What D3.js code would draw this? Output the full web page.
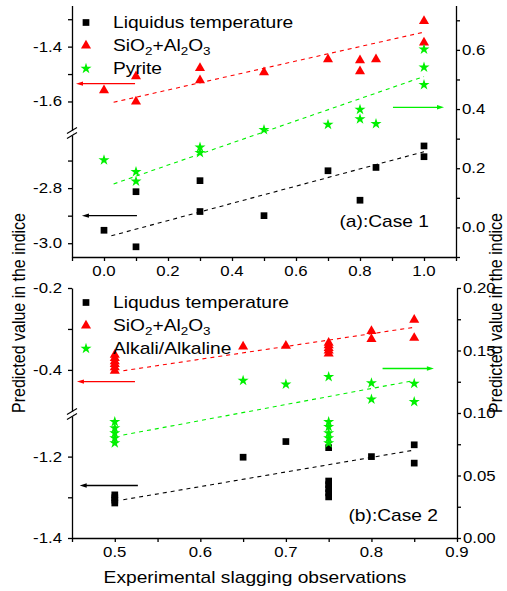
<!DOCTYPE html>
<html>
<head>
<meta charset="utf-8">
<script src="https://cdn.jsdelivr.net/npm/d3@7"></script>
<style>
  body { margin: 0; background: #fff; }
  svg { display: block; font-family: "Liberation Sans", Arial, sans-serif; }
</style>
</head>
<body>
<svg id="chart" width="507" height="591"></svg>
<script>
// ---- data ----
// panel (a): Case 1
const namesA = ["Liquidus temperature", "SiO2+Al2O3", "Pyrite"];
const liqA = [[0, -2.953], [0.1, -2.813], [0.1, -3.013], [0.3, -2.773], [0.3, -2.885], [0.5, -2.90],
    [0.7, -2.737], [0.8, -2.844], [0.85, -2.725], [1.0, -2.647], [1.0, -2.686]];
const sioA = [[0, -1.559], [0.1, -1.508], [0.1, -1.60], [0.3, -1.478], [0.3, -1.523], [0.5, -1.494],
    [0.7, -1.446], [0.8, -1.45], [0.8, -1.49], [0.85, -1.446], [1.0, -1.307], [1.0, -1.385]];
const pyrA = [[0, 0.228], [0.1, 0.188], [0.1, 0.156], [0.3, 0.271], [0.3, 0.252], [0.5, 0.330],
    [0.7, 0.348], [0.8, 0.398], [0.8, 0.366], [0.85, 0.350], [1.0, 0.602], [1.0, 0.541], [1.0, 0.482]];
const fitLiqA = [[0.023, -2.973], [1.0, -2.668]];
const fitSioA = [[0.03, -1.603], [1.0, -1.347]];
const fitPyrA = [[0.03, 0.147], [1.0, 0.51]];
// arrows: [x from, x to, y]
const arrowLiqA = [0.103, -0.069, -2.9];
const arrowSioA = [0.097, -0.0875, -1.535];
const arrowPyrA = [0.903, 1.0625, 0.406];

// panel (b): Case 2
const namesB = ["Liqudus temperature", "SiO2+Al2O3", "Alkali/Alkaline"];
const liqB = [[0.5, -1.294], [0.5, -1.301], [0.5, -1.307], [0.5, -1.314], [0.65, -1.2015], [0.7, -1.163],
    [0.75, -1.178], [0.75, -1.260], [0.75, -1.269], [0.75, -1.279], [0.75, -1.289], [0.75, -1.299],
    [0.8, -1.200], [0.85, -1.171], [0.85, -1.216]];
const sioB = [[0.5, -0.363], [0.5, -0.371], [0.5, -0.379], [0.5, -0.386], [0.5, -0.394], [0.5, -0.402],
    [0.65, -0.343], [0.7, -0.341], [0.75, -0.334], [0.75, -0.340], [0.75, -0.347], [0.75, -0.353],
    [0.75, -0.360], [0.8, -0.305], [0.8, -0.325], [0.85, -0.278], [0.85, -0.322]];
const alkB = [[0.5, 0.093], [0.5, 0.088], [0.5, 0.084], [0.5, 0.080], [0.5, 0.076], [0.65, 0.126],
    [0.7, 0.123], [0.75, 0.129], [0.75, 0.093], [0.75, 0.089], [0.75, 0.084], [0.75, 0.080], [0.75, 0.076],
    [0.8, 0.124], [0.8, 0.111], [0.85, 0.1235], [0.85, 0.109]];
const fitLiqB = [[0.51, -1.306], [0.85, -1.184]];
const fitSioB = [[0.51, -0.402], [0.85, -0.296]];
const fitAlkB = [[0.51, 0.0824], [0.85, 0.126]];
const arrowLiqB = [0.527, 0.459, -1.271];
const arrowSioB = [0.5236, 0.4558, -0.4286];
const arrowAlkB = [0.813, 0.873, 0.1356];

// ticks
const xMajA = [0, 0.2, 0.4, 0.6, 0.8, 1.0], xMinA = [-0.1, 0.1, 0.3, 0.5, 0.7, 0.9, 1.1];
const upMajA = [-1.6, -1.4], upMinA = [-1.5, -1.3];
const loMajA = [-3.0, -2.8], loMinA = [-2.9, -2.7];
const rMajA = [0, 0.2, 0.4, 0.6], rMinA = [-0.1, 0.1, 0.3, 0.5, 0.7];
const xMajB = [0.5, 0.6, 0.7, 0.8, 0.9], xMinB = [0.45, 0.55, 0.65, 0.75, 0.85];
const upMajB = [-0.4, -0.2], upMinB = [-0.3];
const loMajB = [-1.4, -1.2], loMinB = [-1.3];
const rMajB = [0, 0.05, 0.1, 0.15, 0.2], rMinB = [0.025, 0.075, 0.125, 0.175];

const colors = ["#000000", "#ff0000", "#00f000"];
const SX = 1.2; // the original text is a bit wider than plain Arial

const svg = d3.select("#chart");

function label(g, x, y, s, size, anchor) {
    let t = g.append("text")
        .attr("transform", `translate(${x},${y}) scale(${SX},1)`)
        .attr("text-anchor", anchor || "start")
        .style("font-size", size + "px");
    if (s === "SiO2+Al2O3") {
        // chemical formula with subscripts
        let segs = [["SiO", 0], ["2", 4], ["+Al", -4], ["2", 4], ["O", -4], ["3", 4]];
        segs.forEach(seg => {
            t.append("tspan").text(seg[0])
                .attr("dy", seg[1])
                .style("font-size", seg[1] > 0 ? (size * 0.7) + "px" : size + "px");
        });
    } else {
        t.text(s);
    }
    return t;
}

const symbols = [
    d3.symbol().type(d3.symbolSquare).size(45),
    d3.symbol().type(d3.symbolTriangle).size(44),
    d3.symbol().type(d3.symbolStar).size(38)
];

function drawPanel(p) {
    let g = svg.append("g");
    let x = d3.scaleLinear().domain(p.xDom).range([p.left, p.right]);
    let yUp = d3.scaleLinear().domain(p.upDom).range([p.brk, p.top]);
    let yLo = d3.scaleLinear().domain(p.loDom).range([p.bottom, p.brk]);
    let yR = d3.scaleLinear().domain(p.rDom).range([p.bottom, p.top]);
    let yScales = [yLo, yUp, yR];

    // axes
    let ax = (sel) => sel.call(s => s.selectAll("line,path").attr("stroke", "#000").attr("stroke-width", 1.3))
        .call(s => s.selectAll("text").remove());
    g.append("g").attr("transform", `translate(0,${p.bottom})`)
        .call(d3.axisBottom(x).tickValues(p.xMaj.concat(p.xMin)).tickSize(4).tickSizeOuter(0)).call(ax);
    g.append("g").attr("transform", `translate(${p.left},0)`)
        .call(d3.axisLeft(yUp).tickValues(p.upMaj.concat(p.upMin)).tickSize(4).tickSizeOuter(0)).call(ax);
    g.append("g").attr("transform", `translate(${p.left},0)`)
        .call(d3.axisLeft(yLo).tickValues(p.loMaj.concat(p.loMin)).tickSize(4).tickSizeOuter(0)).call(ax);
    g.append("g").attr("transform", `translate(${p.right},0)`)
        .call(d3.axisRight(yR).tickValues(p.rMaj.concat(p.rMin)).tickSize(4).tickSizeOuter(0)).call(ax);

    // axis break on the left
    g.append("line").attr("x1", p.left).attr("x2", p.left)
        .attr("y1", p.brk - 2.5).attr("y2", p.brk + 2.5)
        .attr("stroke", "#fff").attr("stroke-width", 3);
    [-2.5, 2.5].forEach(o => {
        g.append("line")
            .attr("x1", p.left - 5).attr("y1", p.brk + o + 3)
            .attr("x2", p.left + 5).attr("y2", p.brk + o - 3)
            .attr("stroke", "#000").attr("stroke-width", 1.1);
    });

    // tick labels
    p.xMaj.forEach(v => label(g, x(v), p.bottom + 18.5, p.xFmt(v), 14, "middle"));
    p.upMaj.forEach(v => label(g, p.left - 10, yUp(v) + 5, v.toFixed(1), 14, "end"));
    p.loMaj.forEach(v => label(g, p.left - 10, yLo(v) + 5, v.toFixed(1), 14, "end"));
    p.rMaj.forEach(v => label(g, p.right + 6, yR(v) + 5, p.rFmt(v), 14, "start"));

    // fitted dashed lines
    p.fits.forEach((f, i) => {
        g.append("path")
            .datum(f)
            .attr("d", d3.line().x(d => x(d[0])).y(d => yScales[i](d[1])))
            .attr("fill", "none")
            .attr("stroke", colors[i])
            .attr("stroke-width", 1.1)
            .attr("stroke-dasharray", "4,4");
    });

    // points
    p.series.forEach((s, i) => {
        g.append("g").selectAll("path")
            .data(s)
            .join("path")
            .attr("transform", d => `translate(${x(d[0])},${yScales[i](d[1])})`)
            .attr("d", symbols[i]())
            .attr("fill", colors[i]);
    });

    // arrows pointing at the axis each series belongs to
    p.arrows.forEach((a, i) => {
        let x1 = x(a[0]), x2 = x(a[1]), y = yScales[i](a[2]);
        let dir = x2 > x1 ? 1 : -1;
        g.append("line").attr("x1", x1).attr("x2", x2 - dir * 5).attr("y1", y).attr("y2", y)
            .attr("stroke", colors[i]).attr("stroke-width", 1.3);
        g.append("path")
            .attr("d", `M${x2},${y}L${x2 - dir * 7},${y - 2.2}L${x2 - dir * 7},${y + 2.2}Z`)
            .attr("fill", colors[i]);
    });

    // legend
    p.names.forEach((n, i) => {
        g.append("path")
            .attr("transform", `translate(86,${p.legY + i * 23 - 5})`)
            .attr("d", symbols[i]())
            .attr("fill", colors[i]);
        label(g, 113, p.legY + i * 23, n, 16, "start");
    });

    label(g, p.caseX, p.caseY, p.caseText, 16, "end");
}

drawPanel({
    left: 72, right: 456, top: 5.5, bottom: 257, brk: 133,
    xDom: [-0.1, 1.1], upDom: [-1.715, -1.25], loDom: [-3.05, -2.6], rDom: [-0.1, 0.75],
    xMaj: xMajA, xMin: xMinA, upMaj: upMajA, upMin: upMinA, loMaj: loMajA, loMin: loMinA,
    rMaj: rMajA, rMin: rMinA,
    xFmt: v => v.toFixed(1), rFmt: v => v.toFixed(1),
    series: [liqA, sioA, pyrA], fits: [fitLiqA, fitSioA, fitPyrA],
    arrows: [arrowLiqA, arrowSioA, arrowPyrA],
    names: namesA, legY: 27.5,
    caseText: "(a):Case 1", caseX: 429, caseY: 227
});

drawPanel({
    left: 72, right: 457, top: 288, bottom: 538, brk: 414,
    xDom: [0.45, 0.9], upDom: [-0.5077, -0.2], loDom: [-1.4, -1.0953], rDom: [0, 0.2],
    xMaj: xMajB, xMin: xMinB, upMaj: upMajB, upMin: upMinB, loMaj: loMajB, loMin: loMinB,
    rMaj: rMajB, rMin: rMinB,
    xFmt: v => v.toFixed(1), rFmt: v => v.toFixed(2),
    series: [liqB, sioB, alkB], fits: [fitLiqB, fitSioB, fitAlkB],
    arrows: [arrowLiqB, arrowSioB, arrowAlkB],
    names: namesB, legY: 307.5,
    caseText: "(b):Case 2", caseX: 438, caseY: 521
});

// axis titles
label(svg, 255, 583, "Experimental slagging observations", 16, "middle");
svg.append("text")
    .attr("transform", `translate(24.5,313) scale(${SX},1) rotate(-90)`)
    .attr("text-anchor", "middle").style("font-size", "16px")
    .text("Predicted value in the indice");
svg.append("text")
    .attr("transform", `translate(502,313) scale(${SX},1) rotate(-90)`)
    .attr("text-anchor", "middle").style("font-size", "16px")
    .text("Predicted value in the indice");
</script>
</body>
</html>
